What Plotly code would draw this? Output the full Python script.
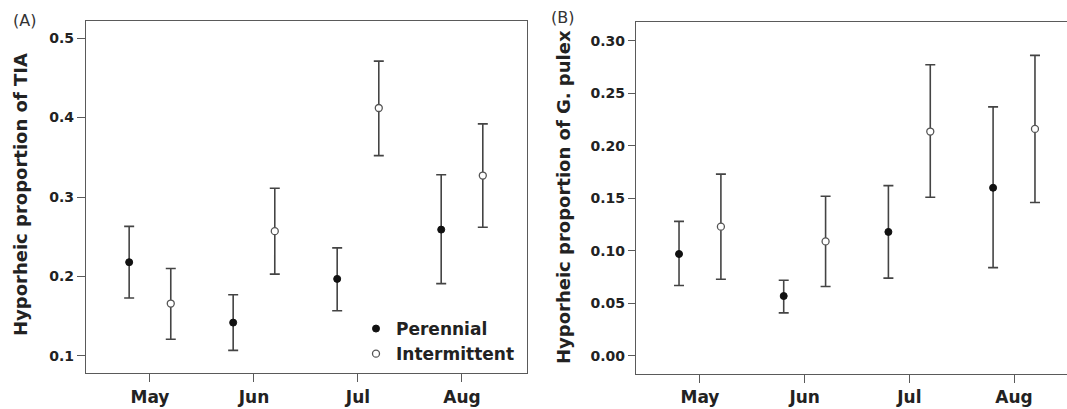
import plotly.graph_objects as go

# Sampling months and per-habitat offsets on the x axis
months = ["May", "Jun", "Jul", "Aug"]
month_pos = [1, 2, 3, 4]
offset = 0.2

# (A) Hyporheic proportion of TIA: mean, upper and lower CI
tia_per = [0.218, 0.142, 0.197, 0.259]
tia_per_hi = [0.263, 0.177, 0.236, 0.328]
tia_per_lo = [0.173, 0.107, 0.157, 0.191]
tia_int = [0.166, 0.257, 0.412, 0.327]
tia_int_hi = [0.210, 0.311, 0.471, 0.392]
tia_int_lo = [0.121, 0.203, 0.352, 0.262]

# (B) Hyporheic proportion of G. pulex: mean, upper and lower CI
gp_per = [0.097, 0.057, 0.118, 0.160]
gp_per_hi = [0.128, 0.072, 0.162, 0.237]
gp_per_lo = [0.067, 0.041, 0.074, 0.084]
gp_int = [0.123, 0.109, 0.2135, 0.216]
gp_int_hi = [0.173, 0.152, 0.277, 0.286]
gp_int_lo = [0.073, 0.066, 0.151, 0.146]

FONT = "DejaVu Sans"
INK = "#222222"
LINE = "#5a5a5a"
BAR = "#444444"
W, H = 1067, 409


def px_x(p):
    return p / W


def px_y(p):
    return 1 - p / H


def err(mean, hi, lo):
    return dict(type="data", symmetric=False,
                array=[h - m for h, m in zip(hi, mean)],
                arrayminus=[m - l for m, l in zip(mean, lo)],
                color=BAR, thickness=1.6, width=5)


fig = go.Figure()

panels = [
    ("x", "y", tia_per, tia_per_hi, tia_per_lo, tia_int, tia_int_hi, tia_int_lo, True),
    ("x2", "y2", gp_per, gp_per_hi, gp_per_lo, gp_int, gp_int_hi, gp_int_lo, False),
]
for xa, ya, pm, ph, pl, im, ih, il, show in panels:
    fig.add_trace(go.Scatter(
        x=[m - offset for m in month_pos], y=pm, xaxis=xa, yaxis=ya,
        mode="markers", name="Perennial", showlegend=show,
        marker=dict(symbol="circle", size=7, color="#111111",
                    line=dict(color="#111111", width=1)),
        error_y=err(pm, ph, pl)))
    fig.add_trace(go.Scatter(
        x=[m + offset for m in month_pos], y=im, xaxis=xa, yaxis=ya,
        mode="markers", name="Intermittent", showlegend=show,
        marker=dict(symbol="circle", size=7, color="white",
                    line=dict(color="#555555", width=1.3)),
        error_y=err(im, ih, il)))

axis_common = dict(showgrid=False, zeroline=False, showline=True,
                   linecolor=LINE, linewidth=1.3, ticks="outside",
                   tickcolor=LINE, tickwidth=1.3)
xt = dict(tickvals=month_pos, ticktext=months, ticklen=8,
          tickfont=dict(family=FONT, size=17, weight="bold", color=INK))
yt_font = dict(family=FONT, size=14, weight="bold", color=INK)

fig.update_layout(
    width=W, height=H, autosize=False,
    margin=dict(l=0, r=0, t=0, b=0),
    paper_bgcolor="white", plot_bgcolor="white",
    xaxis=dict(domain=[px_x(86), px_x(527)], range=[0.385, 4.625],
               mirror=True, anchor="y", **xt, **axis_common),
    yaxis=dict(domain=[px_y(373), px_y(20.7)], range=[0.0786, 0.5218],
               tickvals=[0.1, 0.2, 0.3, 0.4, 0.5],
               ticktext=["0.1", "0.2", "0.3", "0.4", "0.5"],
               ticklen=8, mirror=True, anchor="x", tickfont=yt_font,
               **axis_common),
    xaxis2=dict(domain=[px_x(636), 1.0], range=[0.389, 4.506],
                mirror=True, anchor="y2", **xt, **axis_common),
    yaxis2=dict(domain=[px_y(373.5), px_y(21.7)], range=[-0.0167, 0.318],
                tickvals=[0.0, 0.05, 0.10, 0.15, 0.20, 0.25, 0.30],
                ticktext=["0.00", "0.05", "0.10", "0.15", "0.20", "0.25", "0.30"],
                ticklen=7, mirror=False, anchor="x2", tickfont=yt_font,
                **axis_common),
    legend=dict(x=px_x(356), y=px_y(311), xanchor="left", yanchor="top",
                bgcolor="rgba(0,0,0,0)", borderwidth=0,
                font=dict(family=FONT, size=17, weight="bold", color=INK),
                tracegroupgap=0),
    showlegend=True,
)

annotations = [
    dict(text="(A)", x=px_x(24), y=px_y(20), font=dict(family=FONT, size=16, color="#333333")),
    dict(text="(B)", x=px_x(562), y=px_y(18), font=dict(family=FONT, size=16, color="#333333")),
    dict(text="Hyporheic proportion of TIA", x=px_x(21), y=px_y(195), textangle=-90,
         font=dict(family=FONT, size=18, weight="bold", color=INK)),
    dict(text="Hyporheic proportion of G. pulex", x=px_x(563), y=px_y(197), textangle=-90,
         font=dict(family=FONT, size=18, weight="bold", color=INK)),
]
for a in annotations:
    fig.add_annotation(xref="paper", yref="paper", showarrow=False,
                       xanchor="center", yanchor="middle", **a)

fig.write_html("out.html")
